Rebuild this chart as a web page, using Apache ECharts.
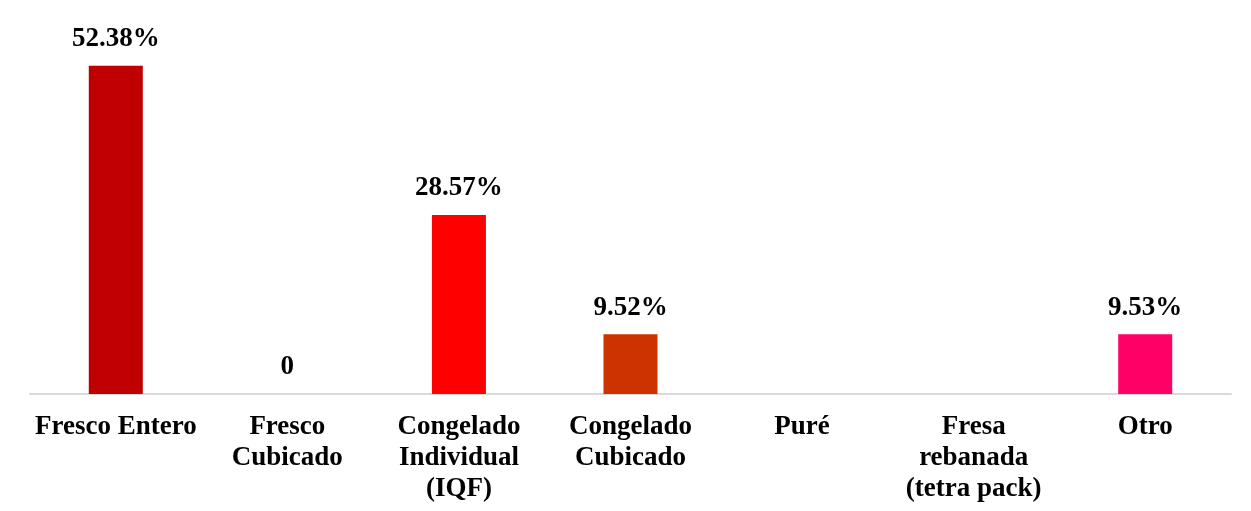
<!DOCTYPE html>
<html>
<head>
<meta charset="utf-8">
<style>html,body{margin:0;padding:0;background:#fff}#c{width:1251px;height:511px}</style>
<script src="https://cdn.jsdelivr.net/npm/echarts@6/dist/echarts.min.js"></script>
</head>
<body>
<div id="c"></div>
<script>
const categories = ['Fresco Entero', 'Fresco\nCubicado', 'Congelado\nIndividual\n(IQF)', 'Congelado\nCubicado', 'Puré', 'Fresa\nrebanada\n(tetra pack)', 'Otro'];
const values = [52.38, 0, 28.57, 9.52, null, null, 9.53];
const colors = ['#C00000', '#C00000', '#FF0000', '#CC3300', '#C00000', '#C00000', '#FF0066'];

const chart = echarts.init(document.getElementById('c'));
const font = '"Liberation Serif", "Times New Roman", serif';
chart.setOption({
  animation: false,
  grid: { left: 30, right: 20, top: 18, bottom: 117, containLabel: false },
  xAxis: {
    type: 'category',
    data: categories,
    axisLine: { lineStyle: { color: '#D9D9D9', width: 2 } },
    axisTick: { show: false },
    axisLabel: { interval: 0, margin: 18, color: '#000', fontFamily: font, fontWeight: 'bold', fontSize: 27, lineHeight: 31 }
  },
  yAxis: { type: 'value', min: 0, max: 60, show: false, splitLine: { show: false } },
  series: [{
    type: 'bar',
    barWidth: 54,
    data: values.map((v, i) => ({ value: v === null ? '-' : v, itemStyle: { color: colors[i] } })),
    label: {
      show: true, position: 'top', distance: 13,
      color: '#000', fontFamily: font, fontWeight: 'bold', fontSize: 27,
      formatter: p => (p.value === 0 ? '0' : p.value.toFixed(2) + '%')
    }
  }]
});
</script>
</body>
</html>
